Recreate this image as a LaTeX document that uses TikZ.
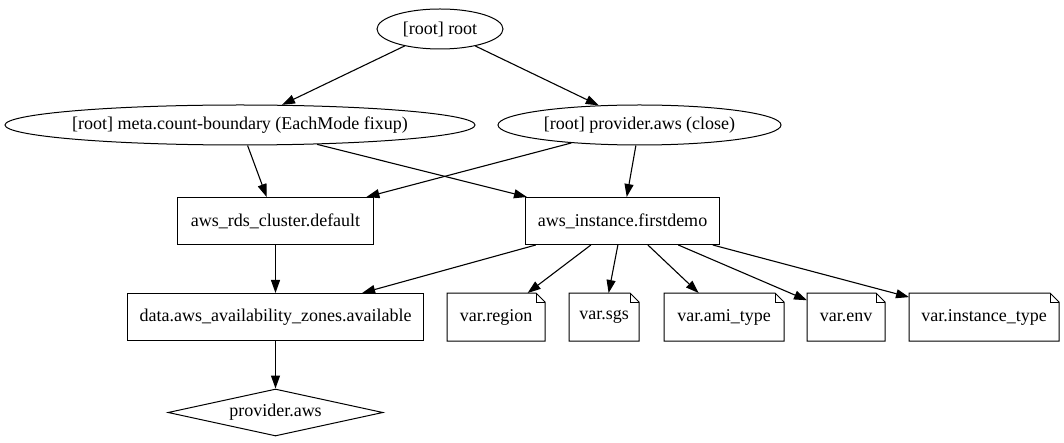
\documentclass[tikz,border=0pt]{standalone}
\usepackage{fontspec}
\setmainfont{Liberation Serif}
\usetikzlibrary{arrows.meta,shapes.geometric}
\newcommand\notefold[1]{%
  \draw[line width=1pt] (#1.north west) -- ([xshift=-9pt]#1.north east) -- ([yshift=-9pt]#1.north east) -- (#1.south east) -- (#1.south west) -- cycle;
  \draw[line width=1pt] ([xshift=-9pt]#1.north east) |- ([yshift=-9pt]#1.north east);}
\begin{document}
\begin{tikzpicture}[x=1pt,y=-1pt,
  every node/.style={font=\fontsize{18}{21}\selectfont, line width=1pt},
  ell/.style={ellipse, draw, inner sep=0pt, minimum height=40pt},
  recbox/.style={rectangle, draw, inner sep=0pt, minimum height=47pt},
  notebox/.style={rectangle, inner sep=0pt, minimum height=47pt},
  dia/.style={diamond, draw, inner sep=0pt, aspect=4.57, minimum width=215pt, minimum height=47pt},
  edge/.style={line width=1.1pt, -{Triangle[length=13pt,width=9pt]}}]
\useasboundingbox (0,0) rectangle (1064,443);
\node[ell, minimum width=126pt] (root) at (440,29) {[root] root};
\node[ell, minimum width=470pt] (meta) at (240,125) {\makebox[300pt][c]{[root] meta.count-boundary (EachMode fixup)}};
\node[ell, minimum width=283pt] (pclose) at (639.5,125) {\makebox[150pt][c]{[root] provider.aws (close)}};
\node[recbox, minimum width=196pt] (rds) at (275.5,221) {aws\_rds\_cluster.default};
\node[recbox, minimum width=194pt] (inst) at (622.5,221) {aws\_instance.firstdemo};
\node[recbox, minimum width=296pt] (data) at (275.5,317) {data.aws\_availability\_zones.available};
\node[notebox, minimum width=97pt] (region) at (496,317) {var.region};
\node[notebox, minimum width=69pt] (sgs) at (604,317) {var.sgs};
\node[notebox, minimum width=119pt] (ami) at (724,317) {var.ami\_type};
\node[notebox, minimum width=77pt] (env) at (846,317) {var.env};
\node[notebox, minimum width=149pt] (itype) at (984,317) {var.instance\_type};
\node[dia] (paws) at (275.5,412.5) {provider.aws};
\notefold{region}
\notefold{sgs}
\notefold{ami}
\notefold{env}
\notefold{itype}
\draw[edge] (root) -- (meta);
\draw[edge] (root) -- (pclose);
\draw[edge] (meta) -- (rds);
\draw[edge] (meta) -- (inst);
\draw[edge] (pclose) -- (rds);
\draw[edge] (pclose) -- (inst);
\draw[edge] (rds) -- (data);
\draw[edge] (inst) -- (data);
\draw[edge] (inst) -- (region);
\draw[edge] (inst) -- (sgs);
\draw[edge] (inst) -- (ami);
\draw[edge] (inst) -- (env);
\draw[edge] (inst) -- (itype);
\draw[edge] (data) -- (paws);
\end{tikzpicture}
\end{document}
